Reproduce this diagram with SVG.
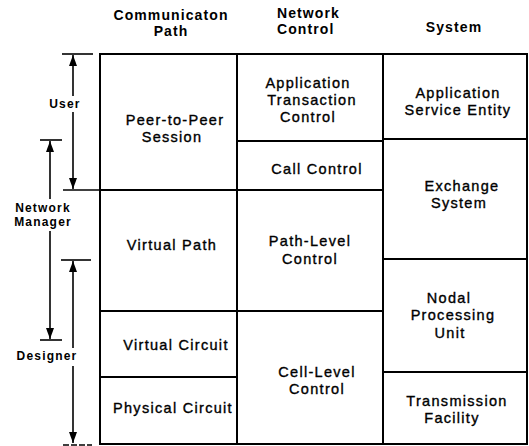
<svg xmlns="http://www.w3.org/2000/svg" width="529" height="446" viewBox="0 0 529 446">
<style>
.t{font-family:"Liberation Sans",Arial,sans-serif;font-size:14.5px;letter-spacing:1.3px;text-anchor:middle;fill:#000;stroke:#000;stroke-width:0.35px}
.h{font-family:"Liberation Sans",Arial,sans-serif;font-size:14px;font-weight:bold;letter-spacing:1.1px;text-anchor:middle;fill:#000}
.l{font-family:"Liberation Sans",Arial,sans-serif;font-size:12px;font-weight:bold;letter-spacing:1.2px;text-anchor:middle;fill:#000}
.g{stroke:#000;stroke-width:2;fill:none}
.a{stroke:#000;stroke-width:1.6;fill:none}
</style>
<defs>
<marker id="ah2" viewBox="0 0 10 10" refX="10" refY="5" markerWidth="11" markerHeight="8" orient="auto-start-reverse" markerUnits="userSpaceOnUse" preserveAspectRatio="none">
<path d="M0,0 L10,5 L0,10 Z" fill="#000"/>
</marker>
</defs>
<g id="headers">
<text class="h" x="171" y="20">Communicaton</text>
<text class="h" x="171" y="36">Path</text>
<text class="h" x="277" y="18" style="text-anchor:start">Network</text>
<text class="h" x="277" y="34" style="text-anchor:start">Control</text>
<text class="h" x="454" y="32">System</text>
</g>
<g id="grid" class="g">
<rect x="100" y="54" width="427" height="390"/>
<line x1="237" y1="54" x2="237" y2="444"/>
<line x1="383" y1="54" x2="383" y2="444"/>
</g>
<g id="peer"><line class="g" x1="100" y1="190" x2="237" y2="190"/><text class="t" x="175" y="125">Peer-to-Peer</text><text class="t" x="172" y="142">Session</text></g>
<g id="vpath"><line class="g" x1="100" y1="311" x2="237" y2="311"/><text class="t" x="172" y="250">Virtual Path</text></g>
<g id="vcirc"><line class="g" x1="100" y1="377" x2="237" y2="377"/><text class="t" x="176" y="350">Virtual Circuit</text></g>
<g id="pcirc"><text class="t" x="173" y="413">Physical Circuit</text></g>
<g id="atc"><line class="g" x1="237" y1="141" x2="383" y2="141"/><text class="t" x="308" y="88">Application</text><text class="t" x="312" y="105">Transaction</text><text class="t" x="308" y="122">Control</text></g>
<g id="call"><line class="g" x1="237" y1="190" x2="383" y2="190"/><text class="t" x="317" y="174">Call Control</text></g>
<g id="plc"><line class="g" x1="237" y1="311" x2="383" y2="311"/><text class="t" x="310" y="246">Path-Level</text><text class="t" x="310" y="264">Control</text></g>
<g id="clc"><text class="t" x="317" y="377">Cell-Level</text><text class="t" x="317" y="394">Control</text></g>
<g id="ase"><line class="g" x1="383" y1="139" x2="527" y2="139"/><text class="t" x="458" y="98">Application</text><text class="t" x="458" y="115">Service Entity</text></g>
<g id="exch"><line class="g" x1="383" y1="259" x2="527" y2="259"/><text class="t" x="462" y="191">Exchange</text><text class="t" x="459" y="208">System</text></g>
<g id="npu"><line class="g" x1="383" y1="372" x2="527" y2="372"/><text class="t" x="449" y="303">Nodal</text><text class="t" x="453" y="320">Processing</text><text class="t" x="450" y="338">Unit</text></g>
<g id="tf"><text class="t" x="457" y="406">Transmission</text><text class="t" x="452" y="423">Facility</text></g>
<g id="connectors">
<g id="user">
<line class="a" x1="62" y1="54" x2="93" y2="54"/>
<line class="a" x1="63" y1="190" x2="100" y2="190"/>
<line class="a" x1="73" y1="96" x2="73" y2="55" marker-end="url(#ah2)"/>
<line class="a" x1="73" y1="112" x2="73" y2="189" marker-end="url(#ah2)"/>
<text class="l" x="65" y="108">User</text>
</g>
<g id="netman">
<line class="a" x1="40" y1="140" x2="62" y2="140"/>
<line class="a" x1="40" y1="340" x2="62" y2="340"/>
<line class="a" x1="50" y1="199" x2="50" y2="141" marker-end="url(#ah2)"/>
<line class="a" x1="50" y1="231" x2="50" y2="339" marker-end="url(#ah2)"/>
<text class="l" x="43" y="212">Network</text>
<text class="l" x="43" y="226">Manager</text>
</g>
<g id="designer">
<line class="a" x1="61" y1="260" x2="91" y2="260"/>
<line class="a" x1="63" y1="445" x2="92" y2="445" stroke-dasharray="6,2"/>
<line class="a" x1="73" y1="348" x2="73" y2="261" marker-end="url(#ah2)"/>
<line class="a" x1="73" y1="366" x2="73" y2="443" marker-end="url(#ah2)"/>
<text class="l" x="47" y="360">Designer</text>
</g>
</g>
</svg>
